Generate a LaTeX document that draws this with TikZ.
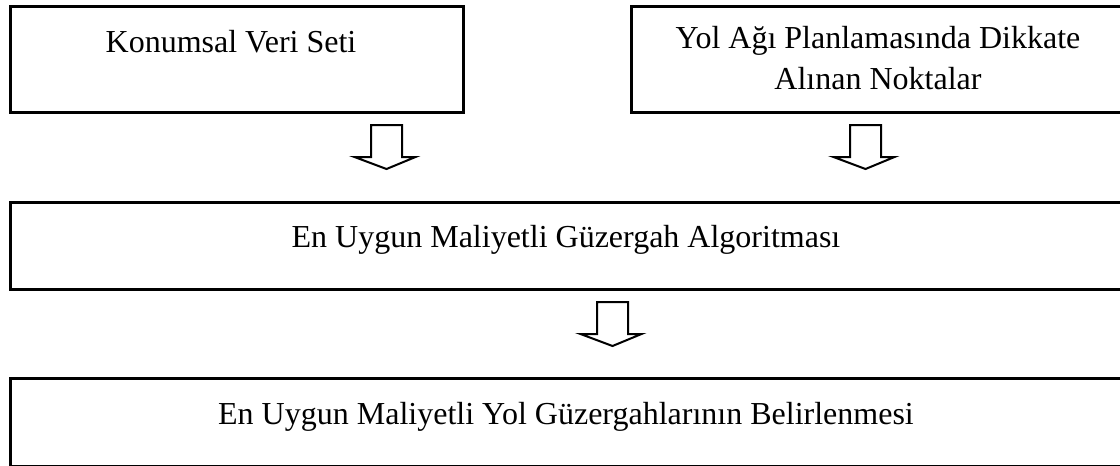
\documentclass[tikz,border=0pt]{standalone}
\usepackage{fontspec}
\setmainfont{Liberation Serif}
\usetikzlibrary{calc}
\tikzset{
  box/.style={draw, line width=3pt, inner sep=0pt},
  lbl/.style={anchor=base, inner sep=0pt, font=\fontsize{32}{41}\selectfont, align=center},
  blockarrow/.style={draw, line width=2pt, line join=miter},
}
\newcommand{\downarrowshape}[1]{%
  \draw[blockarrow] ($(#1)+(-15.5,0)$) -- ($(#1)+(15.5,0)$) -- ($(#1)+(15.5,32)$) -- ($(#1)+(29,32)$)
    -- ($(#1)+(0,44)$) -- ($(#1)+(-32,32)$) -- ($(#1)+(-15.5,32)$) -- cycle;}
\begin{document}
\begin{tikzpicture}[x=1pt,y=-1pt]
\useasboundingbox (0,0) rectangle (1120,466);
\clip (0,0) rectangle (1120,466);
\node[box, minimum width=453pt, minimum height=106pt, anchor=north west] (b1) at (9,5) {};
\node[box, minimum width=495pt, minimum height=106pt, anchor=north west] (b2) at (630,5) {};
\node[box, minimum width=1116pt, minimum height=87pt, anchor=north west] (b3) at (9,201) {};
\node[box, minimum width=1116pt, minimum height=88pt, anchor=north west] (b4) at (9,377) {};
\node[lbl] (t1) at (231,52) {Konumsal Veri Seti};
\node[lbl, anchor=north] (t2) at (878,26) {Yol Ağı Planlamasında Dikkate\\Alınan Noktalar};
\node[lbl] (t3) at (566,247) {En Uygun Maliyetli Güzergah Algoritması};
\node[lbl] (t4) at (566,424) {En Uygun Maliyetli Yol Güzergahlarının Belirlenmesi};
\coordinate (a1) at (386.5,125);
\coordinate (a2) at (865.5,125);
\coordinate (a3) at (612.5,302);
\downarrowshape{a1}
\downarrowshape{a2}
\downarrowshape{a3}
\end{tikzpicture}
\end{document}
